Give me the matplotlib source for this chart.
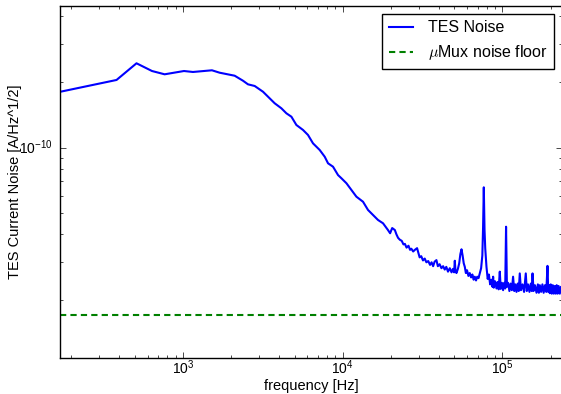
import matplotlib
matplotlib.use('Agg')
import matplotlib.pyplot as plt

plt.style.use('classic')
plt.rcParams['font.family'] = ['Liberation Sans', 'DejaVu Sans']
plt.rcParams['axes.unicode_minus'] = False

# frequency [Hz] and TES current noise [1e-11 A/Hz^1/2]
freq_lo = [171, 384, 512, 640, 768, 1015, 1155, 1519, 1697, 2107, 2375, 2553,
           2812, 3170, 3491, 3750, 4131, 4441, 4774, 5129, 5643, 6063, 6517,
           7178, 7715, 8093, 8697, 9346, 9815, 10550, 11340, 12180, 13400,
           14400, 15480, 16630, 17880]
noise_lo = [18.06, 20.45, 24.39, 22.48, 21.71, 22.48, 22.25, 22.65, 22.08,
            21.39, 20.29, 19.53, 19.19, 18.06, 16.85, 15.99, 15.16, 14.38,
            13.87, 12.71, 12.06, 11.44, 10.47, 9.76, 9.09, 8.48, 8.18, 7.49,
            7.24, 6.87, 6.40, 5.96, 5.65, 5.18, 4.91, 4.66, 4.50]

# high frequency part in kHz
freq_hi_khz = [19.2, 19.8, 20.4, 21.2, 21.7, 22.2, 22.8, 23.4, 24.0, 24.5,
               25.1, 25.8, 26.4, 26.9, 27.6, 28.3, 29.2, 30.3, 31.0, 31.8,
               32.6, 33.4, 34.3, 35.2, 36.0, 36.8, 37.6, 38.6, 39.4, 40.4,
               41.5, 42.5, 43.5, 44.5, 45.6, 46.8, 48.0, 49.0, 49.8, 50.3,
               50.8, 51.5, 52.6, 53.6, 54.5, 55.4, 56.3, 57.2, 58.1, 59.0,
               60.0, 61.2, 62.4, 63.6, 64.8, 66.0, 67.1, 68.3, 69.5, 70.8,
               72.1, 73.5, 74.8, 75.6, 76.4, 77.2, 78.0, 79.4, 80.8, 82.2,
               83.7, 85.3, 86.6, 87.4, 88.2, 89.8, 91.7, 93.2, 94.6, 96.2,
               97.5, 99.2, 100.9, 102.5, 104.0, 105.3, 106.6, 108.4, 110.5,
               112.4, 114.5, 116.5, 118.5, 120.4, 122.4, 124.5, 126.4, 128.3,
               130.5, 133.4, 136.5, 139.9, 142.0, 144.6, 147.5, 150.5, 152.5,
               154.2, 156.5, 159.6, 163.3, 166.5, 169.0, 171.3, 174.5, 177.8,
               181.0, 184.5, 188.0, 191.3, 193.5, 195.5, 197.8, 200.5, 203.5,
               206.5, 209.5, 212.6, 215.5, 218.5, 221.5, 224.5, 228.5, 232.0,
               236.0]
noise_hi = [4.19, 4.05, 4.28, 4.19, 4.00, 3.86, 3.78, 3.74, 3.60, 3.62,
            3.48, 3.55, 3.40, 3.44, 3.34, 3.40, 3.46, 3.14, 3.18, 3.04,
            3.10, 2.98, 3.02, 2.90, 2.98, 2.86, 3.00, 3.05, 2.86, 2.92,
            2.80, 2.86, 2.76, 2.84, 2.70, 2.80, 2.68, 2.78, 2.68, 3.03,
            2.72, 2.66, 2.78, 2.95, 3.25, 3.42, 3.20, 2.95, 2.84, 2.66,
            2.74, 2.58, 2.66, 2.54, 2.62, 2.48, 2.56, 2.46, 2.56, 2.52,
            2.65, 2.80, 3.20, 4.30, 6.58, 4.20, 3.45, 2.84, 2.50, 2.62,
            2.36, 2.48, 2.30, 2.56, 2.28, 2.44, 2.26, 2.42, 2.24, 2.70,
            2.25, 2.40, 2.22, 2.40, 2.26, 4.34, 2.30, 2.40, 2.20,
            2.38, 2.22, 2.56, 2.20, 2.36, 2.18, 2.38, 2.20, 2.65,
            2.22, 2.36, 2.18, 2.65, 2.20, 2.36, 2.18, 2.38, 2.20,
            2.65, 2.20, 2.34, 2.16, 2.36, 2.16, 2.34, 2.18, 2.36,
            2.16, 2.34, 2.18, 2.87, 2.18, 2.34, 2.15, 2.36, 2.14,
            2.34, 2.14, 2.32, 2.14, 2.34, 2.14, 2.32, 2.14, 2.30,
            2.16]

noise_floor = 1.714e-11

freq = freq_lo + [f * 1e3 for f in freq_hi_khz]
noise = [n * 1e-11 for n in noise_lo + noise_hi]

fig = plt.figure(figsize=(5.61, 3.94), dpi=100, facecolor='white')
ax = fig.add_axes([60 / 561, 35.7 / 394, 502 / 561, 352.3 / 394])
ax.plot(freq, noise, color='b', lw=1.5, label='TES Noise')
ax.axhline(noise_floor, color='g', ls='--', lw=1.5, dashes=(4.5, 3),
           label=r'$\mu$Mux noise floor')
ax.set_xscale('log')
ax.set_yscale('log')
ax.set_xlim(170, 2.358e5)
ax.set_ylim(1.081e-11, 4.467e-10)
ax.tick_params(labelsize=10)
ax.tick_params(axis='x', pad=0)
ax.tick_params(axis='y', pad=5)
ax.set_xlabel('frequency [Hz]', fontsize=10.5)
ax.set_ylabel('TES Current Noise [A/Hz^1/2]', fontsize=10.5)
ax.xaxis.set_label_coords(0.5, -0.06)
ax.yaxis.set_label_coords(-0.076, 0.5)
ax.legend(loc='upper right', fontsize=11.5, handlelength=1.5,
          handletextpad=0.95, numpoints=1)

fig.savefig('out.png', dpi=100, facecolor='white')
